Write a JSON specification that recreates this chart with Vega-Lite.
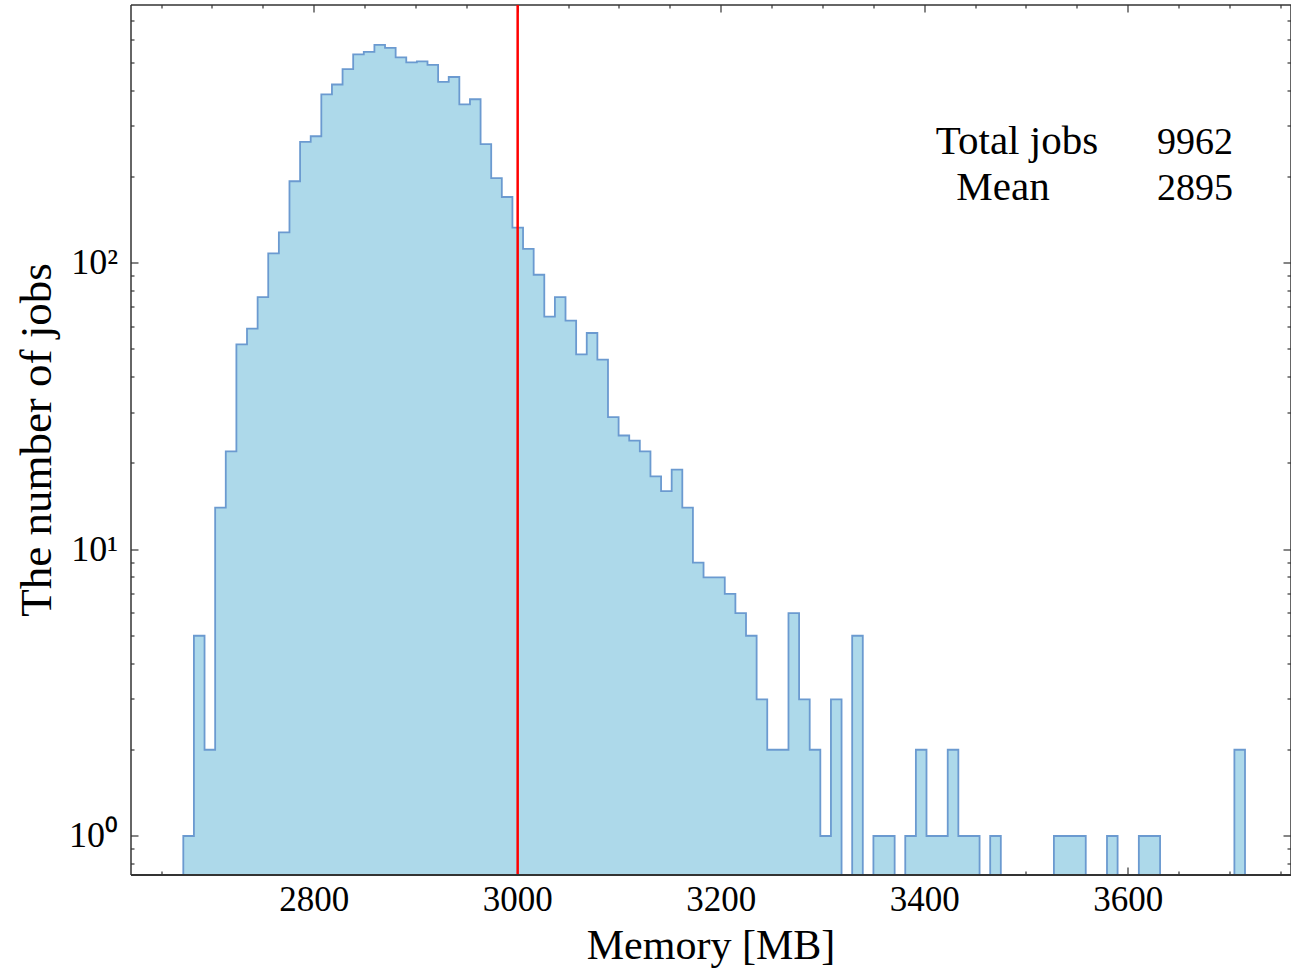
{
  "$schema": "https://vega.github.io/schema/vega-lite/v6.json",
  "width": 1160,
  "height": 870,
  "autosize": {"type": "none"},
  "padding": {"left": 131, "top": 5, "right": 0, "bottom": 93},
  "background": "white",
  "config": {
    "view": {"stroke": null},
    "font": "Liberation Serif",
    "axis": {
      "zindex": 2,
      "translate": 0,
      "grid": false,
      "domainColor": "#333333",
      "domainWidth": 1.5,
      "tickColor": "#333333",
      "tickWidth": 1.2,
      "labelColor": "#000000",
      "titleColor": "#000000",
      "labelFont": "Liberation Serif",
      "titleFont": "Liberation Serif",
      "titleFontWeight": "normal",
      "labelFlush": false,
      "labelOverlap": false
    }
  },
  "datasets": {
    "hist": [
      {"lo": 2671.40, "hi": 2681.83, "n": 1},
      {"lo": 2681.83, "hi": 2692.27, "n": 5},
      {"lo": 2692.27, "hi": 2702.70, "n": 2},
      {"lo": 2702.70, "hi": 2713.14, "n": 14},
      {"lo": 2713.14, "hi": 2723.57, "n": 22},
      {"lo": 2723.57, "hi": 2734.00, "n": 52},
      {"lo": 2734.00, "hi": 2744.44, "n": 59},
      {"lo": 2744.44, "hi": 2754.87, "n": 76},
      {"lo": 2754.87, "hi": 2765.31, "n": 108},
      {"lo": 2765.31, "hi": 2775.74, "n": 128},
      {"lo": 2775.74, "hi": 2786.17, "n": 193},
      {"lo": 2786.17, "hi": 2796.61, "n": 265},
      {"lo": 2796.61, "hi": 2807.04, "n": 277},
      {"lo": 2807.04, "hi": 2817.48, "n": 388},
      {"lo": 2817.48, "hi": 2827.91, "n": 420},
      {"lo": 2827.91, "hi": 2838.34, "n": 475},
      {"lo": 2838.34, "hi": 2848.78, "n": 535},
      {"lo": 2848.78, "hi": 2859.21, "n": 546},
      {"lo": 2859.21, "hi": 2869.65, "n": 577},
      {"lo": 2869.65, "hi": 2880.08, "n": 564},
      {"lo": 2880.08, "hi": 2890.51, "n": 522},
      {"lo": 2890.51, "hi": 2900.95, "n": 502},
      {"lo": 2900.95, "hi": 2911.38, "n": 506},
      {"lo": 2911.38, "hi": 2921.82, "n": 492},
      {"lo": 2921.82, "hi": 2932.25, "n": 429},
      {"lo": 2932.25, "hi": 2942.68, "n": 446},
      {"lo": 2942.68, "hi": 2953.12, "n": 358},
      {"lo": 2953.12, "hi": 2963.55, "n": 373},
      {"lo": 2963.55, "hi": 2973.99, "n": 260},
      {"lo": 2973.99, "hi": 2984.42, "n": 198},
      {"lo": 2984.42, "hi": 2994.85, "n": 170},
      {"lo": 2994.85, "hi": 3005.29, "n": 133},
      {"lo": 3005.29, "hi": 3015.72, "n": 112},
      {"lo": 3015.72, "hi": 3026.16, "n": 91},
      {"lo": 3026.16, "hi": 3036.59, "n": 65},
      {"lo": 3036.59, "hi": 3047.02, "n": 76},
      {"lo": 3047.02, "hi": 3057.46, "n": 63},
      {"lo": 3057.46, "hi": 3067.89, "n": 48},
      {"lo": 3067.89, "hi": 3078.33, "n": 57},
      {"lo": 3078.33, "hi": 3088.76, "n": 46},
      {"lo": 3088.76, "hi": 3099.19, "n": 29},
      {"lo": 3099.19, "hi": 3109.63, "n": 25},
      {"lo": 3109.63, "hi": 3120.06, "n": 24},
      {"lo": 3120.06, "hi": 3130.50, "n": 22},
      {"lo": 3130.50, "hi": 3140.93, "n": 18},
      {"lo": 3140.93, "hi": 3151.36, "n": 16},
      {"lo": 3151.36, "hi": 3161.80, "n": 19},
      {"lo": 3161.80, "hi": 3172.23, "n": 14},
      {"lo": 3172.23, "hi": 3182.67, "n": 9},
      {"lo": 3182.67, "hi": 3193.10, "n": 8},
      {"lo": 3193.10, "hi": 3203.53, "n": 8},
      {"lo": 3203.53, "hi": 3213.97, "n": 7},
      {"lo": 3213.97, "hi": 3224.40, "n": 6},
      {"lo": 3224.40, "hi": 3234.84, "n": 5},
      {"lo": 3234.84, "hi": 3245.27, "n": 3},
      {"lo": 3245.27, "hi": 3255.70, "n": 2},
      {"lo": 3255.70, "hi": 3266.14, "n": 2},
      {"lo": 3266.14, "hi": 3276.57, "n": 6},
      {"lo": 3276.57, "hi": 3287.01, "n": 3},
      {"lo": 3287.01, "hi": 3297.44, "n": 2},
      {"lo": 3297.44, "hi": 3307.87, "n": 1},
      {"lo": 3307.87, "hi": 3318.31, "n": 3},
      {"lo": 3318.31, "hi": 3328.74, "n": 0},
      {"lo": 3328.74, "hi": 3339.18, "n": 5},
      {"lo": 3339.18, "hi": 3349.61, "n": 0},
      {"lo": 3349.61, "hi": 3360.04, "n": 1},
      {"lo": 3360.04, "hi": 3370.48, "n": 1},
      {"lo": 3370.48, "hi": 3380.91, "n": 0},
      {"lo": 3380.91, "hi": 3391.35, "n": 1},
      {"lo": 3391.35, "hi": 3401.78, "n": 2},
      {"lo": 3401.78, "hi": 3412.21, "n": 1},
      {"lo": 3412.21, "hi": 3422.65, "n": 1},
      {"lo": 3422.65, "hi": 3433.08, "n": 2},
      {"lo": 3433.08, "hi": 3443.52, "n": 1},
      {"lo": 3443.52, "hi": 3453.95, "n": 1},
      {"lo": 3453.95, "hi": 3464.38, "n": 0},
      {"lo": 3464.38, "hi": 3474.82, "n": 1},
      {"lo": 3474.82, "hi": 3485.25, "n": 0},
      {"lo": 3485.25, "hi": 3495.69, "n": 0},
      {"lo": 3495.69, "hi": 3506.12, "n": 0},
      {"lo": 3506.12, "hi": 3516.55, "n": 0},
      {"lo": 3516.55, "hi": 3526.99, "n": 0},
      {"lo": 3526.99, "hi": 3537.42, "n": 1},
      {"lo": 3537.42, "hi": 3547.86, "n": 1},
      {"lo": 3547.86, "hi": 3558.29, "n": 1},
      {"lo": 3558.29, "hi": 3568.72, "n": 0},
      {"lo": 3568.72, "hi": 3579.16, "n": 0},
      {"lo": 3579.16, "hi": 3589.59, "n": 1},
      {"lo": 3589.59, "hi": 3600.03, "n": 0},
      {"lo": 3600.03, "hi": 3610.46, "n": 0},
      {"lo": 3610.46, "hi": 3620.89, "n": 1},
      {"lo": 3620.89, "hi": 3631.33, "n": 1},
      {"lo": 3631.33, "hi": 3641.76, "n": 0},
      {"lo": 3641.76, "hi": 3652.20, "n": 0},
      {"lo": 3652.20, "hi": 3662.63, "n": 0},
      {"lo": 3662.63, "hi": 3673.06, "n": 0},
      {"lo": 3673.06, "hi": 3683.50, "n": 0},
      {"lo": 3683.50, "hi": 3693.93, "n": 0},
      {"lo": 3693.93, "hi": 3704.37, "n": 0},
      {"lo": 3704.37, "hi": 3714.80, "n": 2}
    ],
    "stats": [
      {"label": "Total jobs", "value": 9962},
      {"label": "Mean", "value": 2895}
    ]
  },
  "layer": [
    {
      "data": {"name": "hist"},
      "transform": [{"fold": ["lo", "hi"]}],
      "mark": {"type": "area", "interpolate": "linear", "fill": "#ADD9EA", "fillOpacity": 1, "stroke": "#6B9AD0", "strokeWidth": 1.8, "strokeJoin": "miter", "clip": true, "zindex": 0},
      "encoding": {
        "x": {
          "field": "value", "type": "quantitative",
          "scale": {"domain": [2620, 3760], "nice": false, "zero": false},
          "axis": {"orient": "bottom", "zindex": 3, "values": [2800, 3000, 3200, 3400, 3600], "format": "d", "ticks": false, "domainWidth": 2.0, "domainColor": "#333333", "labelFontSize": 35, "labelPadding": 8, "title": "Memory [MB]", "titleFontSize": 42, "titlePadding": 8}
        },
        "y": {
          "field": "n", "type": "quantitative", "stack": null,
          "scale": {"type": "log", "domain": [0.731, 795.6], "clamp": true, "nice": false},
          "axis": {"orient": "left", "values": [1, 10, 100], "labelExpr": "datum.value === 1 ? '10⁰' : datum.value === 10 ? '10¹' : '10²'", "ticks": false, "labelFontSize": 36, "labelPadding": 13, "labelBaseline": "middle", "title": "The number of jobs", "titleFontSize": 45, "titlePadding": 9}
        },
        "order": [{"field": "lo", "type": "quantitative"}, {"field": "key", "type": "nominal", "sort": "descending"}]
      }
    },
    {
      "data": {"values": [{"threshold": 3000}]},
      "mark": {"type": "rule", "color": "#FF0000", "strokeWidth": 2.5},
      "encoding": {
        "x": {
          "field": "threshold", "type": "quantitative",
          "axis": {"orient": "bottom", "values": [2650, 2700, 2750, 2800, 2850, 2900, 2950, 3000, 3050, 3100, 3150, 3200, 3250, 3300, 3350, 3400, 3450, 3500, 3550, 3600, 3650, 3700, 3750], "labels": false, "domain": false, "title": null, "tickSize": {"condition": {"test": "datum.value % 200 === 0", "value": -7.5}, "value": -3.5}}
        }
      }
    },
    {
      "data": {"name": "stats"},
      "transform": [{"filter": "datum.label === 'Total jobs'"}],
      "mark": {"type": "text", "fontSize": 41, "align": "center", "baseline": "alphabetic", "color": "#000000"},
      "encoding": {
        "text": {"field": "label"},
        "x": {
          "datum": 3490.7, "type": "quantitative",
          "axis": {"orient": "top", "values": [2650, 2700, 2750, 2800, 2850, 2900, 2950, 3000, 3050, 3100, 3150, 3200, 3250, 3300, 3350, 3400, 3450, 3500, 3550, 3600, 3650, 3700, 3750], "labels": false, "domain": true, "title": null, "tickSize": {"condition": {"test": "datum.value % 200 === 0", "value": -7.5}, "value": -3.5}}
        },
        "y": {
          "datum": 240, "type": "quantitative",
          "axis": {"orient": "left", "values": [0.8, 0.9, 1, 2, 3, 4, 5, 6, 7, 8, 9, 10, 20, 30, 40, 50, 60, 70, 80, 90, 100, 200, 300, 400, 500, 600, 700], "labels": false, "domain": false, "title": null, "tickSize": {"condition": {"test": "datum.value === 1 || datum.value === 10 || datum.value === 100", "value": -7.5}, "value": -3.5}}
        }
      }
    },
    {
      "data": {"name": "stats"},
      "transform": [{"filter": "datum.label === 'Total jobs'"}],
      "mark": {"type": "text", "fontSize": 38, "align": "right", "baseline": "alphabetic", "color": "#000000"},
      "encoding": {
        "text": {"field": "value"},
        "x": {"datum": 3703, "type": "quantitative", "axis": null},
        "y": {
          "datum": 240, "type": "quantitative",
          "axis": {"orient": "right", "values": [0.8, 0.9, 1, 2, 3, 4, 5, 6, 7, 8, 9, 10, 20, 30, 40, 50, 60, 70, 80, 90, 100, 200, 300, 400, 500, 600, 700], "labels": false, "domain": true, "title": null, "tickSize": {"condition": {"test": "datum.value === 1 || datum.value === 10 || datum.value === 100", "value": -7.5}, "value": -3.5}}
        }
      }
    },
    {
      "data": {"name": "stats"},
      "transform": [{"filter": "datum.label === 'Mean'"}],
      "mark": {"type": "text", "fontSize": 41, "align": "center", "baseline": "alphabetic", "color": "#000000"},
      "encoding": {
        "text": {"field": "label"},
        "x": {"datum": 3477, "type": "quantitative", "axis": null},
        "y": {"datum": 166, "type": "quantitative", "axis": null}
      }
    },
    {
      "data": {"name": "stats"},
      "transform": [{"filter": "datum.label === 'Mean'"}],
      "mark": {"type": "text", "fontSize": 38, "align": "right", "baseline": "alphabetic", "color": "#000000"},
      "encoding": {
        "text": {"field": "value"},
        "x": {"datum": 3703, "type": "quantitative", "axis": null},
        "y": {"datum": 166, "type": "quantitative", "axis": null}
      }
    }
  ],
  "resolve": {"axis": {"x": "independent", "y": "independent"}}
}
